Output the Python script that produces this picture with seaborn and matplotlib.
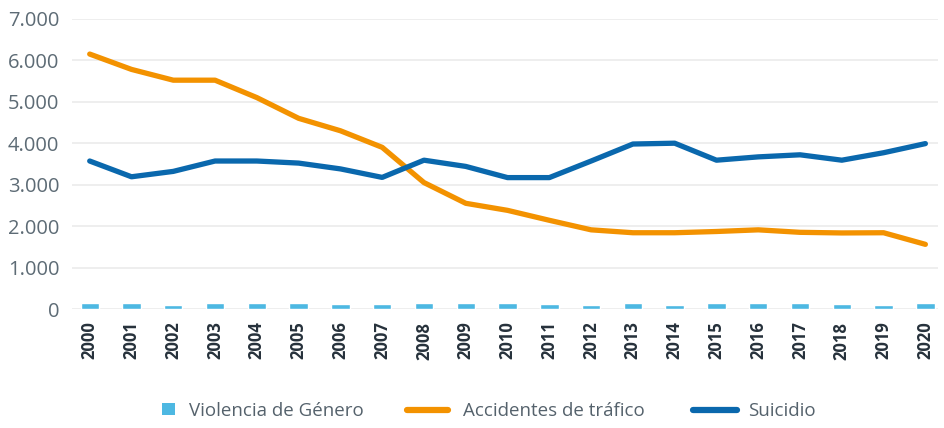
import matplotlib
matplotlib.use("Agg")
import matplotlib.pyplot as plt
import seaborn as sns
import pandas as pd
import numpy as np
from matplotlib.patches import Patch
from matplotlib.lines import Line2D
from matplotlib.ticker import FuncFormatter

years = list(range(2000, 2021))
violencia = [140, 140, 90, 140, 140, 140, 115, 115, 140, 140, 140, 130,
             90, 140, 100, 140, 140, 140, 130, 90, 140]
accidentes = [6150, 5780, 5520, 5520, 5100, 4600, 4300, 3900, 3050, 2550, 2380,
              2140, 1910, 1840, 1840, 1870, 1910, 1850, 1835, 1840, 1560]
suicidio = [3570, 3190, 3320, 3570, 3570, 3520, 3380, 3175, 3590, 3440, 3170,
            3170, 3570, 3980, 4000, 3590, 3670, 3720, 3590, 3770, 3990]
series_names = ["Violencia de Género", "Accidentes de tráfico", "Suicidio"]
yticks = [0, 1000, 2000, 3000, 4000, 5000, 6000, 7000]

c_vio = "#4DB8E2"
c_acc = "#F39200"
c_sui = "#0A68AD"

sns.set_style("white")
plt.rcParams["font.family"] = ["Open Sans", "DejaVu Sans"]

fig = plt.figure(figsize=(9.44, 4.28), dpi=100)
ax = fig.add_axes([0.076, 0.278, 0.918, 0.678])

df = pd.DataFrame({
    "year": years * 2,
    "value": accidentes + suicidio,
    "serie": [series_names[1]] * len(years) + [series_names[2]] * len(years),
})

ax.bar(years, violencia, width=0.44, color=c_vio, zorder=3)
sns.lineplot(data=df, x="year", y="value", hue="serie",
             palette={series_names[1]: c_acc, series_names[2]: c_sui},
             linewidth=3.8, ax=ax, legend=False, zorder=4)

ax.set_xlim(1999.57, 2020.31)
ax.set_ylim(0, 7000)
ax.set_yticks(yticks)
ax.yaxis.set_major_formatter(FuncFormatter(lambda v, p: f"{int(v):,}".replace(",", ".")))
ax.set_xticks(years)
ax.set_xticklabels([str(y) for y in years], rotation=90, fontweight="bold",
                   fontsize=12, color="#26313b")
ax.tick_params(axis="y", labelsize=14.5, labelcolor="#5d6b75", length=0, pad=9)
ax.tick_params(axis="x", length=0, pad=9)
ax.grid(axis="y", color="#ebebeb", linewidth=1.2, zorder=0)
ax.grid(axis="x", visible=False)
for s in ax.spines.values():
    s.set_visible(False)
ax.set_xlabel("")
ax.set_ylabel("")

fs = 13.5
px = fs * 100 / 72
handles = [
    Patch(facecolor=c_vio, edgecolor="none"),
    Line2D([0], [0], color=c_acc, linewidth=4.5, solid_capstyle="round"),
    Line2D([0], [0], color=c_sui, linewidth=4.5, solid_capstyle="round"),
]
leg_x = [162, 407, 693]
hlen = [13 / px, 41 / px, 44 / px]
hpad = [14 / px, 15 / px, 11 / px]
for h, name, x0, hl, hp in zip(handles, series_names, leg_x, hlen, hpad):
    leg = fig.legend([h], [name], loc="center left", bbox_to_anchor=(x0 / 944, 0.040),
                     frameon=False, fontsize=fs, handlelength=hl, handleheight=0.6,
                     handletextpad=hp, borderpad=0, borderaxespad=0)
    for t in leg.get_texts():
        t.set_color("#55626c")

fig.savefig("out.png", dpi=100)
